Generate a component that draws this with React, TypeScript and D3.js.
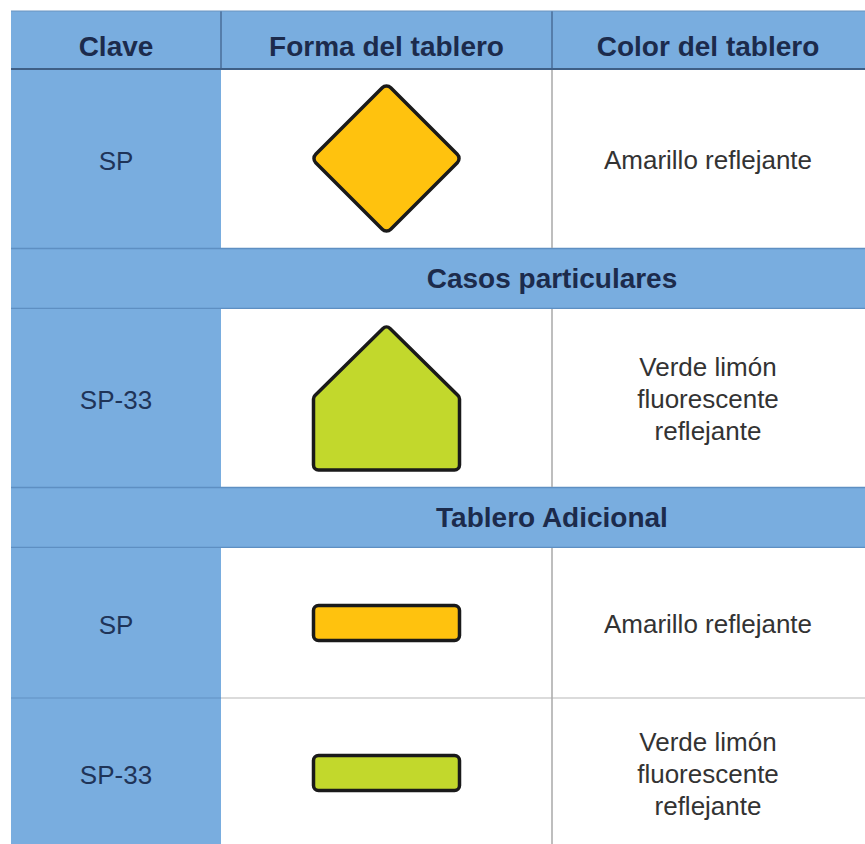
import React from 'react';
import * as d3 from 'd3';

// table content
const headers = ['Clave', 'Forma del tablero', 'Color del tablero'];
const sections = ['', 'Casos particulares', 'Tablero Adicional', ''];
const claves = ['SP', 'SP-33', 'SP', 'SP-33'];
const shapes = ['diamond', 'pentagon', 'bar', 'bar'];
const boardColors = ['#FFC20E', '#C2D82C', '#FFC20E', '#C2D82C'];
const colorLabels = [
  ['Amarillo reflejante'],
  ['Verde limón', 'fluorescente', 'reflejante'],
  ['Amarillo reflejante'],
  ['Verde limón', 'fluorescente', 'reflejante'],
];
// which section band comes before each data row
const bandBefore = [0, 1, 2, 0];

const W = 865, H = 844;
const BLUE = '#79ADDF';
const NAVY = '#1C2B4C';
const FONT = "'Liberation Sans', Arial, sans-serif";

// polygon with rounded corners, drawn with d3.path
function roundedPolygon(pts, r) {
  const p = d3.path();
  const n = pts.length;
  const mid = (a, b) => [(a[0] + b[0]) / 2, (a[1] + b[1]) / 2];
  const start = mid(pts[n - 1], pts[0]);
  p.moveTo(start[0], start[1]);
  for (let i = 0; i < n; i++) {
    const cur = pts[i], next = pts[(i + 1) % n];
    p.arcTo(cur[0], cur[1], next[0], next[1], r);
  }
  p.closePath();
  return p.toString();
}

function App() {
  const left = 11, top = 11;
  const colW = [210, 331, 340];
  const colX = [left, ...d3.cumsum(colW).map(c => left + c)];
  const headerH = 58;
  const bandH = 61;
  const rowH = [179, 178, 150, 150];

  // vertical layout of rows
  let y = top + headerH;
  const rows = claves.map((k, i) => {
    let band = null;
    if (bandBefore[i]) {
      band = { y0: y, y1: y + bandH, label: sections[bandBefore[i]] };
      y += bandH;
    }
    const r = { y0: y, y1: y + rowH[i], band };
    y += rowH[i];
    return r;
  });

  const cx2 = (colX[1] + colX[2]) / 2;
  const cx1 = (colX[0] + colX[1]) / 2;
  const cx3 = (colX[2] + colX[3]) / 2 - 14;

  const shapePath = (kind, cy, r) => {
    const hw = 73;
    if (kind === 'diamond') {
      return roundedPolygon([[cx2, cy - 75], [cx2 + hw + 2, cy], [cx2, cy + 75], [cx2 - hw - 2, cy]], 6);
    }
    if (kind === 'pentagon') {
      const t = r.y0 + 16, b = r.y1 - 17;
      return roundedPolygon([[cx2, t], [cx2 + hw, t + 72], [cx2 + hw, b], [cx2 - hw, b], [cx2 - hw, t + 72]], 5);
    }
    return null;
  };

  return (
    <svg width={W} height={H} style={{ display: 'block', position: 'absolute', left: 0, top: 0 }}>
      <rect x={0} y={0} width={W} height={H} fill="#fff" />
      {/* header */}
      <rect x={left} y={top} width={W - left} height={headerH} fill={BLUE} />
      {headers.map((h, i) => (
        <text key={h} x={i === 2 ? cx3 : (colX[i] + colX[i + 1]) / 2} y={top + 45}
          textAnchor="middle" fontFamily={FONT}
          fontWeight="bold" fontSize={28} fill={NAVY}>{h}</text>
      ))}
      {rows.map((r, i) => (
        <g key={i}>
          {r.band && (
            <g>
              <rect x={left} y={r.band.y0} width={W - left} height={bandH} fill={BLUE} />
              <line x1={left} x2={W} y1={r.band.y0 + 0.5} y2={r.band.y0 + 0.5} stroke="#5E8FC2" strokeWidth={1.5} />
              <line x1={left} x2={W} y1={r.band.y1 - 0.5} y2={r.band.y1 - 0.5} stroke="#5E8FC2" strokeWidth={1.5} />
              <text x={552} y={(r.band.y0 + r.band.y1) / 2 + 9} textAnchor="middle"
                fontFamily={FONT} fontWeight="bold"
                fontSize={28} fill={NAVY}>{r.band.label}</text>
            </g>
          )}
          <rect x={left} y={r.y0} width={colW[0]} height={r.y1 - r.y0} fill={BLUE} />
          <rect x={colX[1]} y={r.y0} width={W - colX[1]} height={r.y1 - r.y0} fill="#fff" />
          {i > 0 && !r.band && (
            <g>
              <line x1={left} x2={colX[1]} y1={r.y0} y2={r.y0} stroke="#6A9BCD" strokeWidth={1.5} />
              <line x1={colX[1]} x2={W} y1={r.y0} y2={r.y0} stroke="#CFCFCF" strokeWidth={1.5} />
            </g>
          )}
          <text x={cx1} y={(r.y0 + r.y1) / 2 + 11} textAnchor="middle"
            fontFamily={FONT} fontSize={26} fill="#1F3458">{claves[i]}</text>
          {shapes[i] === 'bar' ? (
            <rect x={cx2 - 73} y={(r.y0 + r.y1) / 2 - 17.5} width={146} height={35} rx={5}
              fill={boardColors[i]} stroke="#1A1A1A" strokeWidth={3.5} />
          ) : (
            <path d={shapePath(shapes[i], (r.y0 + r.y1) / 2, r)} fill={boardColors[i]}
              stroke="#1A1A1A" strokeWidth={3.5} strokeLinejoin="round" />
          )}
          {colorLabels[i].map((t, j) => (
            <text key={j} x={cx3} textAnchor="middle"
              y={(r.y0 + r.y1) / 2 + 10 + (j - (colorLabels[i].length - 1) / 2) * 32}
              fontFamily={FONT} fontSize={26} fill="#333">{t}</text>
          ))}
        </g>
      ))}
      {/* column dividers */}
      <line x1={colX[1]} x2={colX[1]} y1={top} y2={top + headerH} stroke="#4A6E98" strokeWidth={1.5} />
      <line x1={colX[2]} x2={colX[2]} y1={top} y2={top + headerH} stroke="#4A6E98" strokeWidth={1.5} />
      {rows.map((r, i) => (
        <line key={i} x1={colX[2]} x2={colX[2]} y1={r.y0} y2={r.y1} stroke="#A8A8A8" strokeWidth={1.5} />
      ))}
      <line x1={left} x2={W} y1={top + headerH} y2={top + headerH} stroke="#3F5F86" strokeWidth={2} />
      <line x1={left} x2={W} y1={top} y2={top} stroke="#6A94C0" strokeWidth={1} />
    </svg>
  );
}

export default App;
